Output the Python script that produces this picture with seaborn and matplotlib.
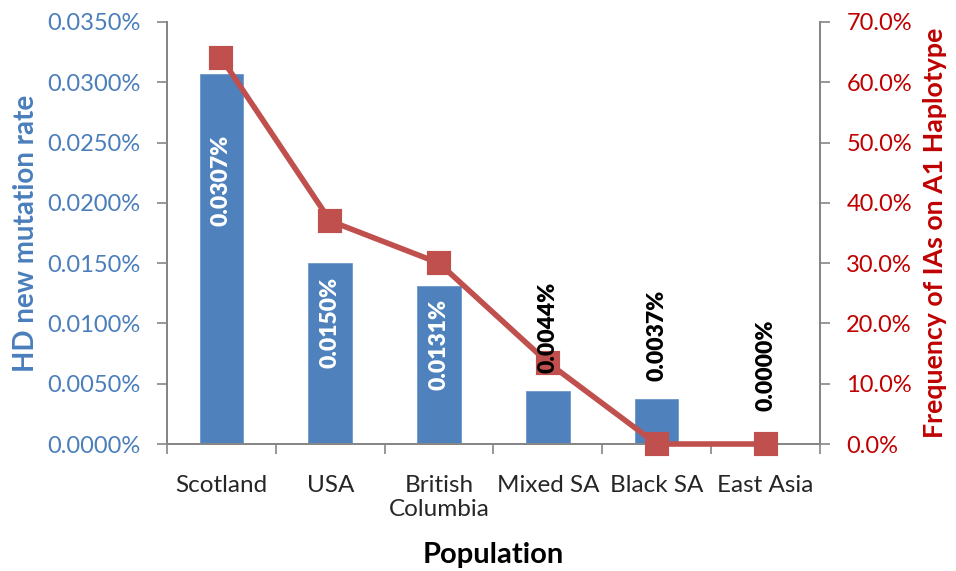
import matplotlib
matplotlib.use("Agg")
import matplotlib.pyplot as plt
from matplotlib.ticker import FuncFormatter, MultipleLocator, FixedLocator
import seaborn as sns
import pandas as pd

# Data (rates and frequencies in percent)
populations = ["Scotland", "USA", "British\nColumbia", "Mixed SA", "Black SA", "East Asia"]
mutation_rate = [0.0307, 0.0150, 0.0131, 0.0044, 0.0037, 0.0000]
a1_frequency = [64.0, 37.0, 30.0, 13.5, 0.0, 0.0]

BLUE = "#4F81BD"
BLUE_TXT = "#4A7EBB"
RED = "#C0504D"
RED_TXT = "#C00000"
GRAY = "#868686"

sns.set_theme(style="white")
plt.rcParams["font.family"] = ["Lato", "DejaVu Sans"]

df = pd.DataFrame({"Population": populations,
                   "rate": mutation_rate,
                   "freq": a1_frequency})

fig = plt.figure(figsize=(9.56, 5.71), dpi=100)
ax = fig.add_axes([0.1747, 0.2224, 0.6830, 0.7391])

sns.barplot(data=df, x="Population", y="rate", color=BLUE, saturation=1,
            width=0.4, ax=ax, edgecolor="#6E97CB", linewidth=0.6)

ax2 = ax.twinx()
sns.pointplot(data=df, x="Population", y="freq", color=RED, markers="s",
              ax=ax2, linewidth=4.0, markersize=15, errorbar=None)
for ln in ax2.lines:
    ln.set_markeredgecolor(RED)
    ln.set_zorder(3)
    ln.set_clip_on(False)

n = len(populations)
ax.set_xlim(-0.5, n - 0.5)
ax.set_ylim(0, 0.035)
ax2.set_ylim(0, 70)

# Axis formatting
ax.yaxis.set_major_locator(MultipleLocator(0.005))
ax.yaxis.set_major_formatter(FuncFormatter(lambda v, p: f"{v:.4f}%"))
ax2.yaxis.set_major_locator(MultipleLocator(10))
ax2.yaxis.set_major_formatter(FuncFormatter(lambda v, p: f"{v:.1f}%"))

ax.xaxis.set_major_locator(FixedLocator(range(n)))
ax.set_xticklabels(populations)
ax.xaxis.set_minor_locator(FixedLocator([i - 0.5 for i in range(n + 1)]))

ax.tick_params(axis="x", which="major", length=0, pad=22, labelsize=17.5,
               colors="#262626")
ax.tick_params(axis="x", which="minor", length=7, width=1.2, color=GRAY,
               bottom=True, direction="out")
ax.tick_params(axis="y", length=7, width=1.2, color=GRAY, labelsize=17,
               labelcolor=BLUE_TXT, left=True, direction="out", pad=12)
ax2.tick_params(axis="y", length=7, width=1.2, color=GRAY, labelsize=17,
                labelcolor=RED_TXT, right=True, direction="out", pad=12)

for a in (ax, ax2):
    a.spines["top"].set_visible(False)
    for s in ("left", "right", "bottom"):
        a.spines[s].set_color(GRAY)
        a.spines[s].set_linewidth(1.4)
    a.grid(False)

ax.set_xlabel("Population", fontsize=21, fontweight="bold", color="black",
              labelpad=16)
ax.set_ylabel("HD new mutation rate", fontsize=20, fontweight="bold",
              color=BLUE_TXT, labelpad=6)
ax2.set_ylabel("Frequency of IAs on A1 Haplotype", fontsize=19.3,
               fontweight="bold", color=RED_TXT, labelpad=8)

ax.set_zorder(ax2.get_zorder() - 1)
ax.patch.set_visible(True)
ax.patch.set_facecolor("white")
ax2.patch.set_visible(False)

# Value labels on bars (placed on the upper axes so they sit above the line):
# white inside the tall bars, black above the short ones
scale = 70 / 0.035
inside_gap = [44, 10, 9]
for i, v in enumerate(mutation_rate):
    txt = f"{v:.4f}%"
    if i < 3:
        ax2.annotate(txt, xy=(i, v * scale), xytext=(0, -inside_gap[i]),
                     textcoords="offset points", rotation=90, ha="center",
                     va="top", color="white", fontsize=16.5,
                     fontweight="heavy", zorder=5)
    else:
        gap = 13 if v > 0 else 24
        ax2.annotate(txt, xy=(i, v * scale), xytext=(0, gap),
                     textcoords="offset points", rotation=90, ha="center",
                     va="bottom", color="black", fontsize=16.5,
                     fontweight="heavy", zorder=5)

fig.savefig("out.png", dpi=100, facecolor="white")
